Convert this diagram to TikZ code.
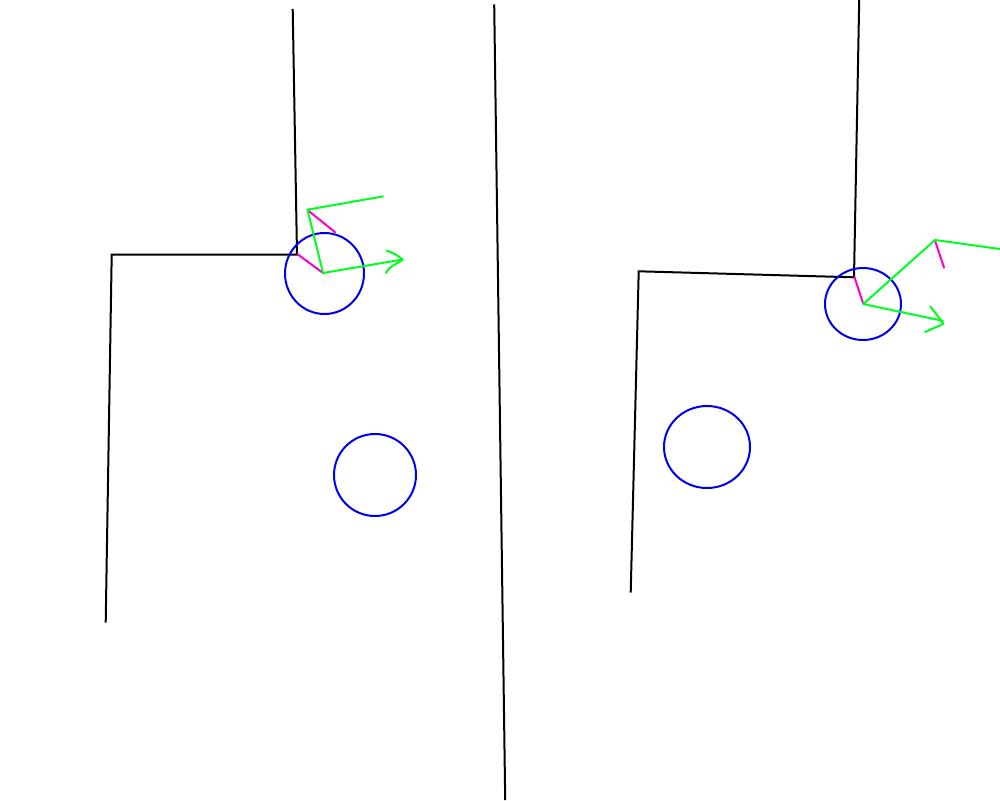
\documentclass[tikz,border=0pt]{standalone}
\definecolor{gr}{RGB}{0,255,30}
\definecolor{mg}{RGB}{255,0,200}
\definecolor{bl}{RGB}{0,0,240}
\tikzset{
  wall/.style={draw=black,line width=2pt,line join=miter},
  ball/.style={draw=bl,line width=2pt},
  ray/.style={draw=gr,line width=2pt,line join=round},
  lnk/.style={draw=mg,line width=2pt}
}
\begin{document}
\begin{tikzpicture}[x=1pt,y=-1pt]
\useasboundingbox[fill=white] (0,0) rectangle (1000,800);
% black walls
\draw[wall] (292.7,9) -- (297,254.5) -- (111.7,254.5) -- (105.7,622.5);
\draw[wall] (494.2,4.5) -- (505.2,800);
\draw[wall] (859.2,0) -- (854,277.3) -- (638.7,271.3) -- (630.7,592.5);
% circles
\draw[ball] (324.5,273.5) ellipse [x radius=39.5,y radius=40.5];
\draw[ball] (375,475) ellipse [x radius=41,y radius=41];
\draw[ball] (863,304) ellipse [x radius=38,y radius=36];
\draw[ball] (707,447) ellipse [x radius=43,y radius=41];
% magenta
\draw[lnk] (297.3,254) -- (323,273);
\draw[lnk] (307.5,210) -- (335.7,232.7);
\draw[lnk] (854.3,276.7) -- (863.3,304);
\draw[lnk] (935,240.7) -- (944.3,268.3);
% green
\draw[ray] (383.5,196.3) -- (307.5,209.7) -- (323,273) -- (402.7,259.5);
\draw[ray] (386,250.7) .. controls (392,252) and (397,255) .. (402.7,259.5) .. controls (396,265) and (390,265) .. (385.7,273.3);
\draw[ray] (1000,249) -- (935,240) -- (863.3,304) -- (943.5,321);
\draw[ray] (930,306) -- (943.5,323.7) -- (924.7,332.3);
\end{tikzpicture}
\end{document}
